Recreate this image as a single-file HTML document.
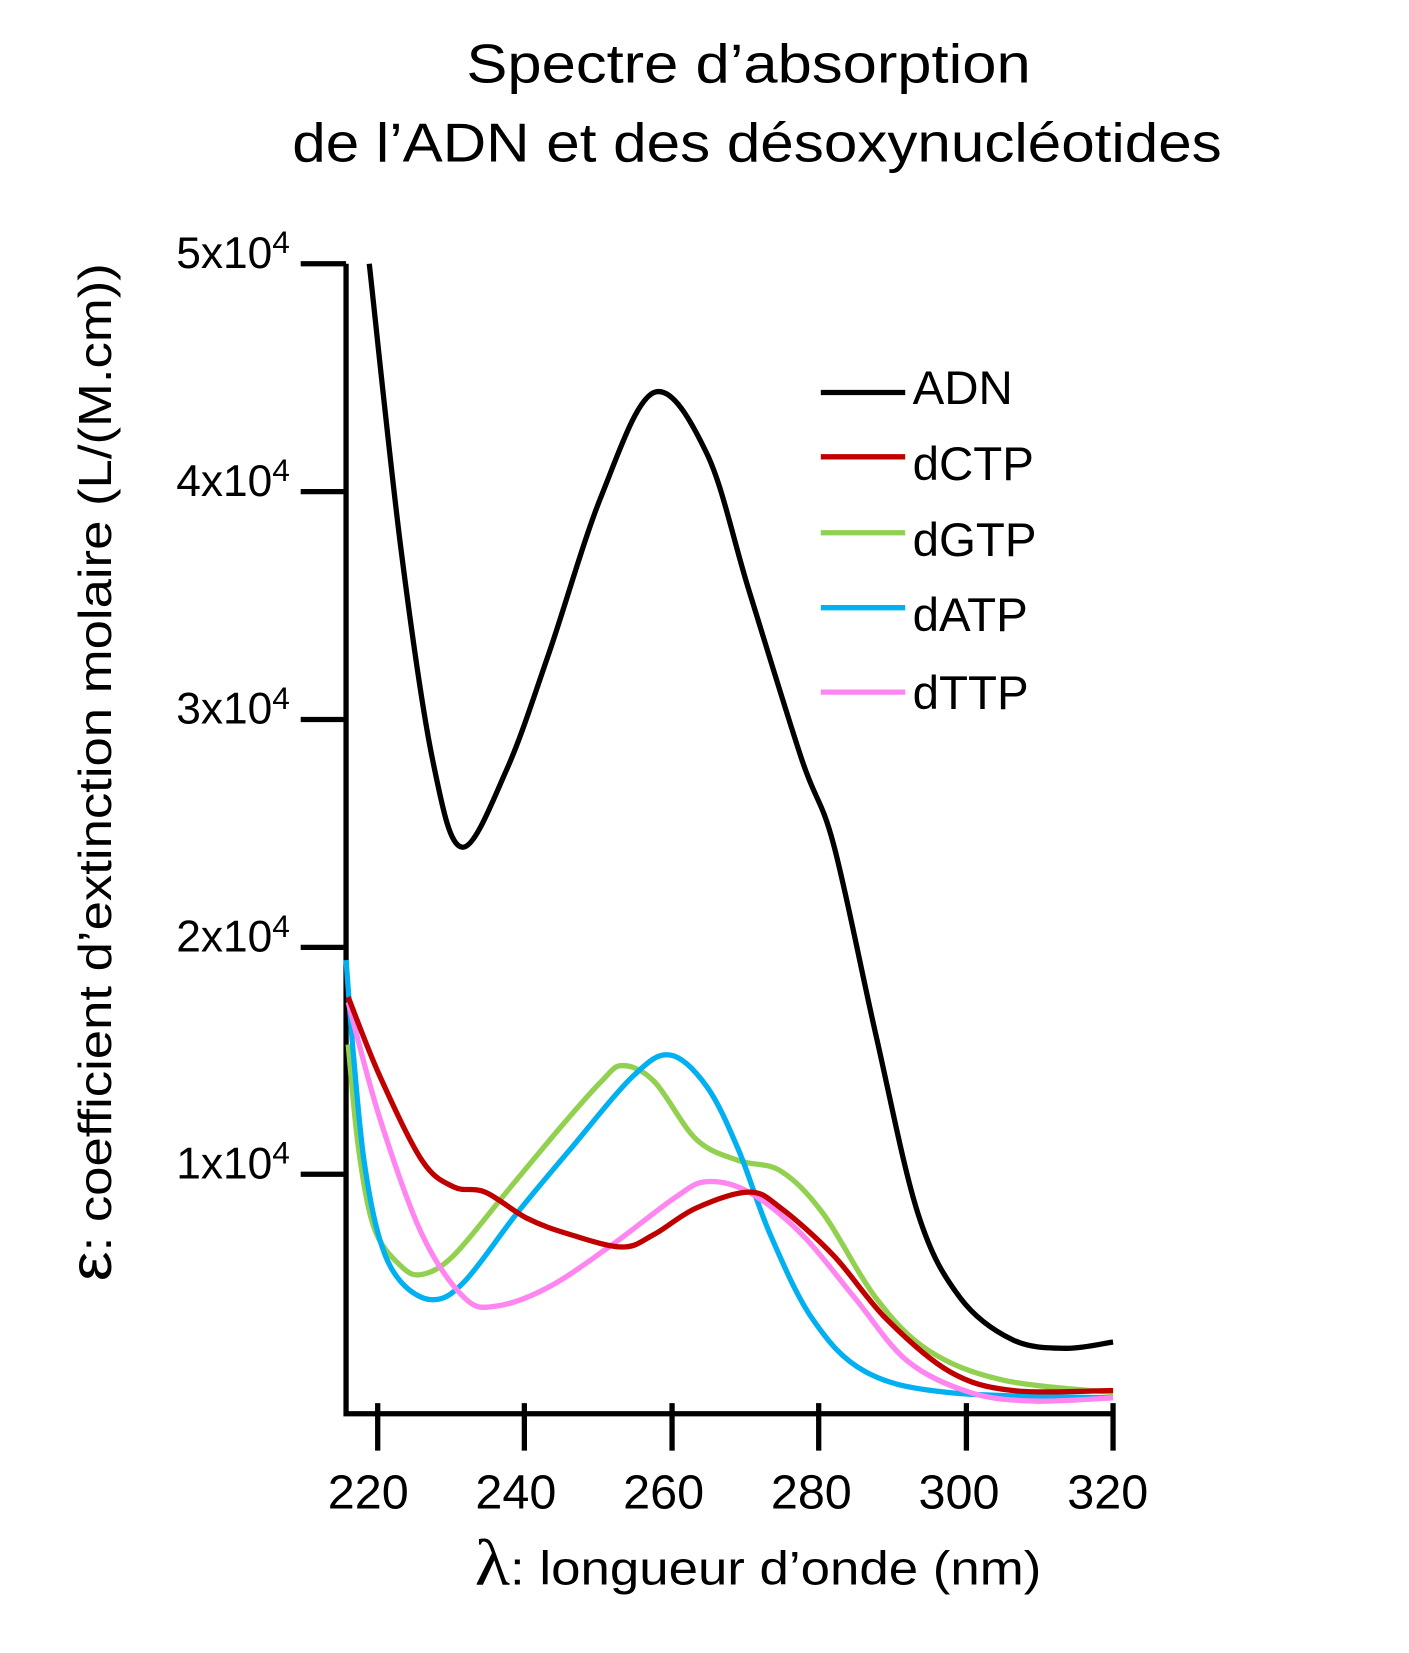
<!DOCTYPE html>
<html><head><meta charset="utf-8"><style>
html,body{margin:0;padding:0;background:#fff;}
svg{display:block;}
text{font-family:"Liberation Sans",sans-serif;fill:#000;}
</style></head><body>
<svg id="s" width="1409" height="1653" viewBox="0 0 1335.5 1566.8" xmlns="http://www.w3.org/2000/svg">
<text x="442" y="78" font-size="52" textLength="535" lengthAdjust="spacingAndGlyphs">Spectre d’absorption</text>
<text x="277" y="153" font-size="52" textLength="881" lengthAdjust="spacingAndGlyphs">de l’ADN et des désoxynucléotides</text>
<g stroke="#000" stroke-width="5" fill="none">
<path d="M328 250 V1340 H1055"/>
<path d="M285 250 H328 M285 466 H328 M285 682 H328 M285 898 H328 M285 1113 H328"/>
<path d="M358 1330 V1375 M497 1330 V1375 M637 1330 V1375 M776 1330 V1375 M916 1330 V1375 M1055 1330 V1375"/>
</g>
<g font-size="42">
<text x="167" y="254">5x10<tspan font-size="30" dy="-14">4</tspan></text>
<text x="167" y="470">4x10<tspan font-size="30" dy="-14">4</tspan></text>
<text x="167" y="686">3x10<tspan font-size="30" dy="-14">4</tspan></text>
<text x="167" y="902">2x10<tspan font-size="30" dy="-14">4</tspan></text>
<text x="167" y="1117">1x10<tspan font-size="30" dy="-14">4</tspan></text>
</g>
<g font-size="46" text-anchor="middle">
<text x="349" y="1430">220</text><text x="489" y="1430">240</text><text x="629" y="1430">260</text>
<text x="769" y="1430">280</text><text x="909" y="1430">300</text><text x="1050" y="1430">320</text>
</g>
<text x="450" y="1502" font-size="45" textLength="537" lengthAdjust="spacingAndGlyphs"><tspan font-size="62" font-family="Liberation Serif">λ</tspan>: longueur d’onde (nm)</text>
<text transform="translate(105,732) rotate(-90)" font-size="44" text-anchor="middle" textLength="965" lengthAdjust="spacingAndGlyphs"><tspan font-size="56">ε</tspan>: coefficient d’extinction molaire (L/(M.cm))</text>
<g stroke-width="5">
<line x1="778" y1="372" x2="858" y2="372" stroke="#000"/>
<line x1="778" y1="433" x2="858" y2="433" stroke="#c00000"/>
<line x1="778" y1="505" x2="858" y2="505" stroke="#92d050"/>
<line x1="778" y1="576" x2="858" y2="576" stroke="#00b0f0"/>
<line x1="778" y1="656" x2="858" y2="656" stroke="#ff85f0"/>
</g>
<g font-size="45">
<text x="865" y="383">ADN</text><text x="865" y="455">dCTP</text><text x="865" y="527">dGTP</text>
<text x="865" y="598">dATP</text><text x="865" y="672">dTTP</text>
</g>
<g id="curves" fill="none" stroke-width="5" stroke-linejoin="round"></g>
</svg>
<script>
var data={
"#000":[[350,250],[380,520],[410,720],[438,803],[480,730],[520,620],[570,470],[620,372],[670,430],[710,560],[760,720],[790,800],[830,980],[870,1150],[910,1230],[960,1270],[1010,1278],[1055,1272]],
"#92d050":[[330,990],[340,1090],[355,1165],[380,1200],[400,1208],[430,1190],[480,1130],[530,1070],[570,1025],[590,1010],[620,1025],[660,1080],[700,1100],[740,1110],[780,1150],[830,1230],[880,1280],[950,1308],[1055,1320]],
"#00b0f0":[[328,910],[335,1000],[345,1100],[360,1175],[380,1215],[410,1232],[440,1215],[490,1150],[540,1090],[600,1020],[635,1000],[670,1030],[700,1090],[730,1170],[770,1250],[820,1300],[900,1320],[1055,1325]],
"#ff85f0":[[330,950],[360,1060],[400,1170],[440,1230],[470,1238],[520,1220],[580,1180],[640,1135],[670,1120],[710,1130],[760,1170],[810,1230],[860,1290],[920,1320],[980,1328],[1055,1325]],
"#c00000":[[330,945],[360,1020],[400,1100],[430,1125],[460,1130],[500,1155],[540,1170],[590,1182],[620,1170],[660,1145],[710,1130],[740,1145],[790,1190],[840,1250],[900,1300],[960,1318],[1055,1318]]
};
var g=document.getElementById("curves"),ns="http://www.w3.org/2000/svg";
for(var c in data){var p=data[c],d="M"+p[0][0]+" "+p[0][1];
for(var i=0;i<p.length-1;i++){var p0=p[i-1]||p[i],p1=p[i],p2=p[i+1],p3=p[i+2]||p2;
d+=" C"+(p1[0]+(p2[0]-p0[0])/6)+" "+(p1[1]+(p2[1]-p0[1])/6)+" "+(p2[0]-(p3[0]-p1[0])/6)+" "+(p2[1]-(p3[1]-p1[1])/6)+" "+p2[0]+" "+p2[1];}
var e=document.createElementNS(ns,"path");e.setAttribute("d",d);e.setAttribute("stroke",c);g.appendChild(e);}
</script>
</body></html>
